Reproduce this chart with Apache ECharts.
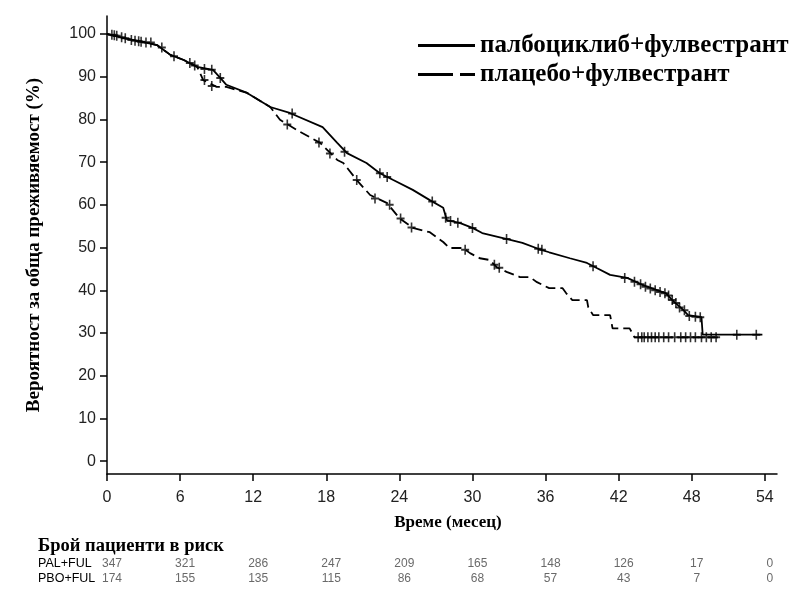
<!DOCTYPE html>
<html>
<head>
<meta charset="utf-8">
<script src="https://cdn.jsdelivr.net/npm/echarts@6/dist/echarts.min.js"></script>
<style>
  html, body { margin: 0; padding: 0; background: #fff; }
  #chart { width: 812px; height: 590px; }
</style>
</head>
<body>
<div id="chart"></div>
<script>
// крива палбоциклиб+фулвестрант: [месец, %]
const palCurve = [
  [0, 100], [1.3, 99.1], [3.0, 98.1], [4.1, 97.4], [5.2, 95.1], [6.3, 93.9], [7.4, 92.3],
  [8.7, 91.6], [9.3, 89.7], [9.8, 88.1], [11.5, 86.2], [13.4, 82.9], [15.0, 81.5],
  [17.7, 78.2], [18.9, 74.5], [19.7, 72.1], [21.3, 69.8], [22.4, 67.4], [23.5, 65.8],
  [25.1, 63.5], [26.5, 61.1], [27.6, 59.3], [27.9, 56.4], [29.0, 55.7], [30.0, 54.6],
  [30.8, 53.4], [33.1, 51.8], [34.1, 51.1], [35.5, 49.6], [36.3, 48.9], [38.0, 47.5],
  [39.4, 46.4], [40.2, 45.2], [41.3, 43.6], [42.7, 42.9], [44.0, 41.2], [45.9, 39.3],
  [46.4, 37.7], [47.3, 35.4], [47.7, 34.2], [48.8, 33.7], [48.9, 29.6], [53.8, 29.6]
];
// крива плацебо+фулвестрант
const pboCurve = [
  [0, 100], [1.3, 99.1], [3.0, 98.1], [4.1, 97.4], [5.2, 95.1], [6.3, 93.9], [7.4, 92.3],
  [7.9, 89.2], [9.0, 87.6], [9.8, 87.6], [11.5, 86.2], [13.4, 82.9], [14.2, 79.9],
  [15.6, 77.5], [17.5, 74.5], [18.9, 70.5], [19.4, 69.8], [20.5, 65.8], [21.6, 62.3],
  [23.0, 60.4], [24.0, 56.9], [25.1, 54.6], [26.5, 53.6], [27.6, 51.3], [28.1, 49.9],
  [29.2, 49.9], [29.8, 48.7], [30.6, 47.5], [31.4, 47.1], [32.0, 45.4], [32.8, 44.3],
  [33.9, 43.1], [34.7, 43.1], [35.3, 41.9], [36.3, 40.5], [37.4, 40.5], [37.7, 39.3],
  [38.2, 37.7], [39.4, 37.7], [39.5, 36.1], [39.9, 34.2], [41.3, 34.2], [41.5, 31.1],
  [42.9, 31.1], [43.3, 29.0], [50.3, 29.0]
];
// цензурирани наблюдения
const palCensor = [
  [0.4, 99.8], [0.8, 99.6], [1.5, 99], [2.0, 98.6], [2.6, 98.3], [3.2, 98], [3.6, 98],
  [5.5, 94.8], [8.0, 91.8], [8.6, 91.6], [9.3, 89.7], [15.2, 81.4], [19.5, 72.4],
  [22.4, 67.4], [23.0, 66.5], [26.7, 60.8], [27.8, 57], [28.2, 56.2], [28.8, 55.8],
  [30.0, 54.6], [32.8, 52], [35.4, 49.7], [35.7, 49.5], [39.9, 45.6], [42.5, 42.9],
  [43.3, 42], [43.8, 41.4], [44.2, 40.8], [44.6, 40.4], [45.0, 40], [45.4, 39.6],
  [45.8, 39.3], [46.1, 38.8], [46.4, 37.7], [46.7, 37], [47.0, 36], [47.4, 35.3],
  [47.8, 34], [48.3, 33.8], [48.7, 33.7], [51.7, 29.6], [53.3, 29.6]
];
const pboCensor = [
  [0.6, 99.7], [1.2, 99.2], [2.3, 98.4], [2.8, 98.2], [4.5, 96.8], [6.8, 93.2], [7.2, 92.6],
  [8.0, 89.2], [8.6, 87.8], [14.8, 78.8], [17.4, 74.6], [18.3, 72], [20.5, 65.8],
  [22.0, 61.5], [23.2, 60], [24.1, 56.8], [25.0, 54.7], [29.4, 49.5], [31.8, 46],
  [32.2, 45.3], [43.6, 29], [43.9, 29], [44.1, 29], [44.4, 29], [44.7, 29], [45.0, 29],
  [45.3, 29], [45.7, 29], [46.1, 29], [46.6, 29], [47.1, 29], [47.5, 29], [47.9, 29],
  [48.3, 29], [48.8, 29], [49.2, 29], [49.6, 29], [50.0, 29]
];

const xTicks = [0, 6, 12, 18, 24, 30, 36, 42, 48, 54];
const yTicks = [0, 10, 20, 30, 40, 50, 60, 70, 80, 90, 100];
const riskRows = ["PBO+FUL", "PAL+FUL"];
const palRisk = [347, 321, 286, 247, 209, 165, 148, 126, 17, 0];
const pboRisk = [174, 155, 135, 115, 86, 68, 57, 43, 7, 0];

const names = ["палбоциклиб+фулвестрант", "плацебо+фулвестрант"];
const plus = "path://M4,0H6V4H10V6H6V10H4V6H0V4H4Z";
const serif = "'Liberation Serif', 'Times New Roman', serif";
const sans = "'Liberation Sans', Arial, sans-serif";
const narrow = "'Liberation Sans Narrow', 'Liberation Sans', Arial, sans-serif";

const riskData = [];
xTicks.forEach((t, i) => {
  riskData.push([t, 1, palRisk[i]]);
  riskData.push([t, 0, pboRisk[i]]);
});

const chart = echarts.init(document.getElementById("chart"));
chart.setOption({
  animation: false,
  backgroundColor: "#fff",
  grid: [
    { left: 107, right: 35, top: 16, bottom: 116 },
    { left: 107, right: 35, top: 556, height: 30 }
  ],
  legend: {
    left: 413,
    top: 28,
    orient: "vertical",
    itemWidth: 57,
    itemHeight: 3,
    itemGap: 4,
    data: [
      { name: names[0], icon: "path://M0,0H57V3H0Z" },
      { name: names[1], icon: "path://M0,0H35V3H0ZM42,0H57V3H42Z" }
    ],
    itemStyle: { color: "#000" },
    textStyle: {
      fontFamily: serif, fontWeight: "bold", fontSize: 25, lineHeight: 25, color: "#000"
    }
  },
  xAxis: [
    {
      type: "value",
      min: 0,
      max: 55,
      name: "Време (месец)",
      nameLocation: "middle",
      nameGap: 40,
      nameTextStyle: {
        fontFamily: serif, fontWeight: "bold", fontSize: 17, color: "#000", padding: [0, 0, 0, 12]
      },
      axisLine: { onZero: false, lineStyle: { color: "#000", width: 1.5 } },
      axisTick: { customValues: xTicks, length: 7, lineStyle: { color: "#000", width: 1.5 } },
      axisLabel: { customValues: xTicks, fontFamily: sans, fontSize: 16, color: "#222", margin: 16 },
      splitLine: { show: false }
    },
    {
      type: "value",
      gridIndex: 1,
      min: 0,
      max: 55,
      show: false
    }
  ],
  yAxis: [
    {
      type: "value",
      min: -3,
      max: 104.2,
      name: "Вероятност за обща преживяемост (%)",
      nameLocation: "middle",
      nameGap: 63,
      nameTextStyle: { fontFamily: serif, fontWeight: "bold", fontSize: 19, color: "#000" },
      axisLine: { onZero: false, lineStyle: { color: "#000", width: 1.5 } },
      axisTick: { customValues: yTicks, length: 7, lineStyle: { color: "#000", width: 1.5 } },
      axisLabel: { customValues: yTicks, fontFamily: sans, fontSize: 16, color: "#222", margin: 11 },
      splitLine: { show: false }
    },
    {
      type: "category",
      gridIndex: 1,
      data: riskRows,
      axisLine: { show: false },
      axisTick: { show: false },
      axisLabel: { interval: 0, align: "left", margin: 69, fontFamily: sans, fontSize: 12.5, color: "#000" }
    }
  ],
  graphic: [
    {
      type: "text",
      left: 38,
      top: 537,
      style: { text: "Брой пациенти в риск", font: "bold 18.5px " + serif, fill: "#000" }
    }
  ],
  series: [
    {
      name: names[0],
      type: "line",
      data: palCurve,
      symbol: "none",
      lineStyle: { color: "#000", width: 1.8 },
      itemStyle: { color: "#000" }
    },
    {
      name: names[1],
      type: "line",
      data: pboCurve,
      symbol: "none",
      lineStyle: { color: "#000", width: 1.8, type: [10, 5] },
      itemStyle: { color: "#000" }
    },
    {
      type: "scatter",
      data: palCensor,
      symbol: plus,
      symbolSize: [8, 10],
      itemStyle: { color: "#000" }
    },
    {
      type: "scatter",
      data: pboCensor,
      symbol: plus,
      symbolSize: [8, 10],
      itemStyle: { color: "#000" }
    },
    {
      type: "scatter",
      xAxisIndex: 1,
      yAxisIndex: 1,
      data: riskData,
      symbolSize: 0,
      label: {
        show: true,
        position: "inside",
        offset: [5, 0],
        formatter: (p) => String(p.value[2]),
        fontFamily: narrow,
        fontSize: 12,
        color: "#444"
      }
    }
  ]
});
</script>
</body>
</html>
